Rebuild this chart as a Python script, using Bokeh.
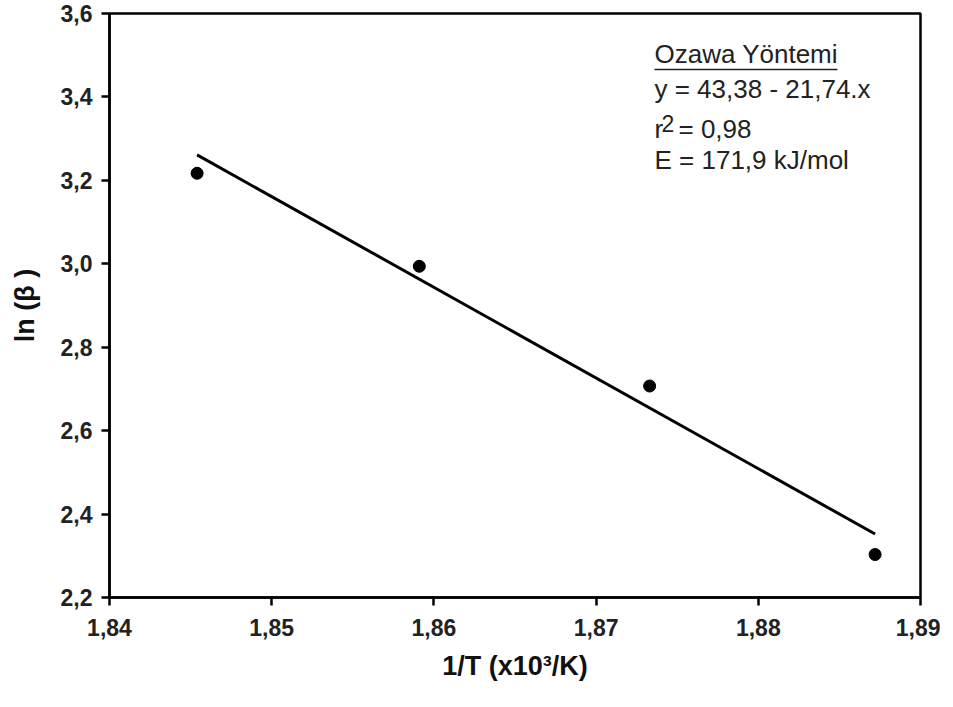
from bokeh.plotting import figure
from bokeh.models import Range1d, CustomJSTickFormatter, Label, FixedTicker
from bokeh.embed import file_html
from bokeh.resources import INLINE

# Data
inv_T = [1.8454, 1.8591, 1.8733, 1.8872]
ln_beta = [3.217, 2.994, 2.707, 2.303]

# Regression given on chart: y = 43,38 - 21,74.x
intercept = 43.38
slope = -21.74
fit_x = [min(inv_T), max(inv_T)]
fit_y = [intercept + slope * v for v in fit_x]

x_ticks = [1.84, 1.85, 1.86, 1.87, 1.88, 1.89]
y_ticks = [2.2, 2.4, 2.6, 2.8, 3.0, 3.2, 3.4, 3.6]

title_text = "Ozawa Yöntemi"
eq_text = "y = 43,38 - 21,74.x"
r2_base = "r"
r2_sup = "2"
r2_rest = "= 0,98"
e_text = "E = 171,9 kJ/mol"

p = figure(width=940, height=690, output_backend="svg", toolbar_location=None,
           x_range=Range1d(1.84, 1.89), y_range=Range1d(2.2, 3.6),
           min_border_left=109, min_border_right=20, min_border_top=13, min_border_bottom=93)
p.background_fill_color = "white"
p.border_fill_color = "white"
p.grid.visible = False
p.outline_line_color = "black"
p.outline_line_width = 2.5
p.outline_line_alpha = 1.0

FONT = "Liberation Sans"
for ax in (p.xaxis[0], p.yaxis[0]):
    ax.axis_line_width = 2.5
    ax.axis_line_color = "black"
    ax.major_tick_line_width = 2.5
    ax.major_tick_line_color = "black"
    ax.major_tick_in = 0
    ax.major_tick_out = 8
    ax.minor_tick_line_color = None
    ax.major_label_text_font = FONT
    ax.major_label_text_font_style = "bold"
    ax.major_label_text_font_size = "23px"
    ax.major_label_text_color = "#222222"
    ax.axis_label_text_font = FONT
    ax.axis_label_text_font_style = "bold"
    ax.axis_label_text_font_size = "27px"
    ax.axis_label_text_color = "#111111"

p.xaxis.ticker = FixedTicker(ticks=x_ticks)
p.yaxis.ticker = FixedTicker(ticks=y_ticks)
p.xaxis.formatter = CustomJSTickFormatter(code="return tick.toFixed(2).replace('.', ',');")
p.yaxis.formatter = CustomJSTickFormatter(code="return tick.toFixed(1).replace('.', ',');")
p.xaxis.major_label_standoff = 13
p.yaxis.major_label_standoff = 9
p.xaxis.axis_label = "1/T (x10³/K)"
p.yaxis.axis_label = "ln (β )"
p.xaxis.axis_label_standoff = 12
p.yaxis.axis_label_standoff = 18

p.line(fit_x, fit_y, line_color="black", line_width=3)
p.scatter(inv_T, ln_beta, size=12, marker="circle", fill_color="black", line_color="black")

# Annotation block
ann_x = 1.8736
ann_ys = [3.485, 3.4015, 3.3056, 3.231]
AFS = "26px"
SHIFT = 7
def lab(text, y, xoff=0, yoff=0, size=AFS):
    p.add_layout(Label(x=ann_x, y=y, x_offset=xoff, y_offset=yoff + SHIFT, text=text, text_font=FONT,
                       text_font_size=size, text_color="#222222",
                       text_baseline="alphabetic", text_align="left"))

lab(title_text, ann_ys[0])
lab(eq_text, ann_ys[1])
lab(r2_base, ann_ys[2])
lab(r2_sup, ann_ys[2], xoff=7, yoff=6, size="23px")
lab(r2_rest, ann_ys[2], xoff=24)
lab(e_text, ann_ys[3])
# underline for title
p.segment(x0=[ann_x], y0=[3.466], x1=[ann_x + 0.01128], y1=[3.466], line_color="#222222", line_width=1.5)

open("out.html", "w").write(file_html(p, INLINE))
